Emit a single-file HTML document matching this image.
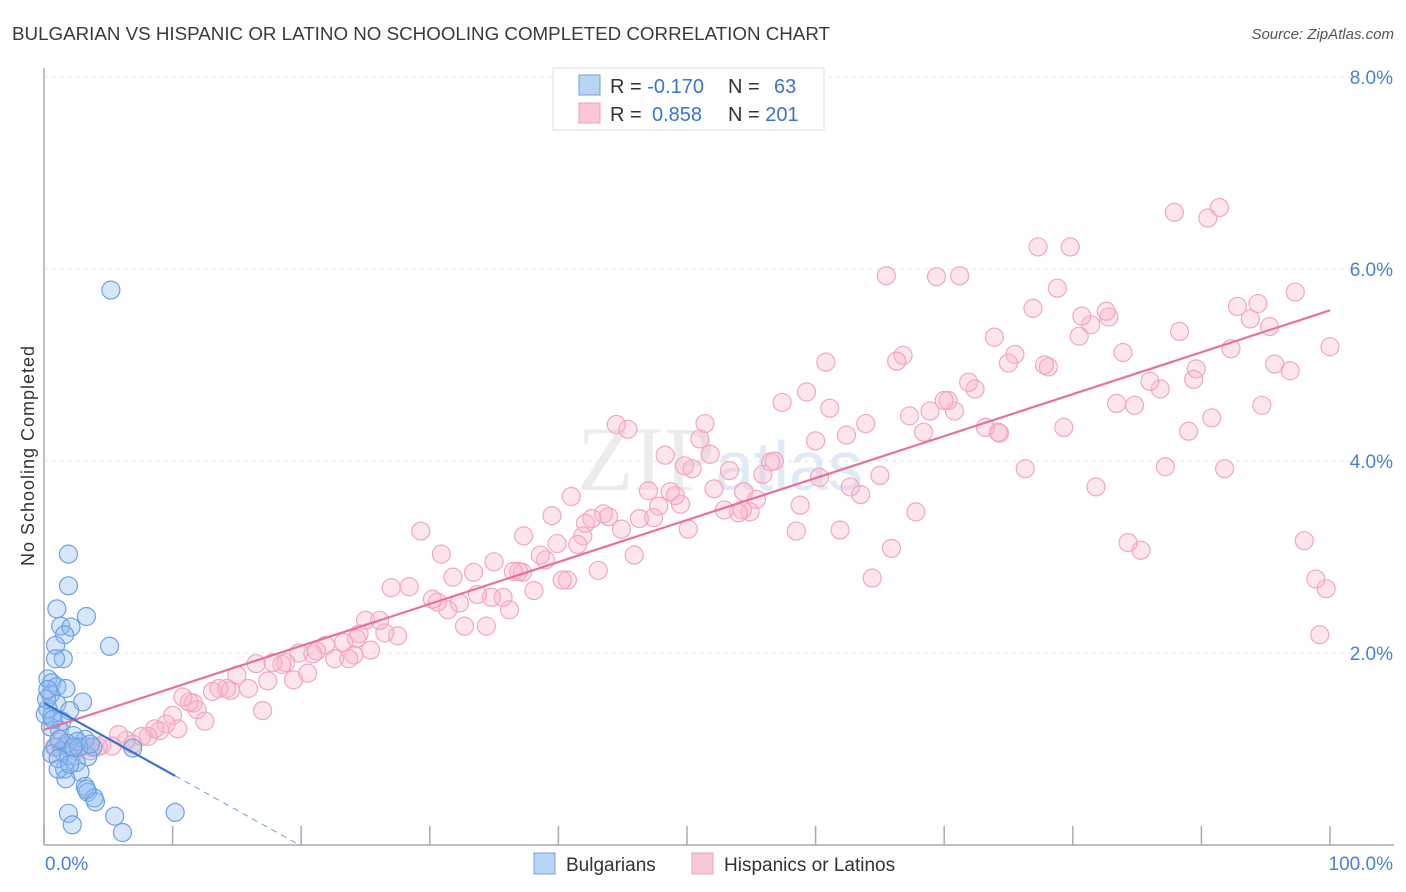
<!DOCTYPE html>
<html><head><meta charset="utf-8">
<style>
body{margin:0;background:#fff;font-family:"Liberation Sans",sans-serif;}
#wrap{position:relative;width:1406px;height:892px;overflow:hidden;}
</style></head>
<body>
<div id="wrap">
<svg id="chart" width="1406" height="892" xmlns="http://www.w3.org/2000/svg">
<text x="12" y="40" font-size="18" fill="#3a3a3a" textLength="818" lengthAdjust="spacingAndGlyphs">BULGARIAN VS HISPANIC OR LATINO NO SCHOOLING COMPLETED CORRELATION CHART</text>
<text x="1394" y="39" font-size="15" fill="#555" font-style="italic" text-anchor="end">Source: ZipAtlas.com</text>
<text x="720" y="490" font-size="92" fill="#ececec" text-anchor="middle" font-family="Liberation Serif,serif">ZIP<tspan font-family="Liberation Sans,sans-serif" font-size="70" fill="#e0eaf7">atlas</tspan></text>
<g id="grid"></g>
<g id="axes"></g>
<g id="marks"></g>
<text transform="translate(34,456) rotate(-90)" font-size="18" fill="#333" text-anchor="middle" textLength="220">No Schooling Completed</text>
<g>
<rect x="553" y="68" width="271" height="62" fill="#fff" stroke="#ddd"/>
<rect x="579" y="75" width="21" height="20" fill="#b9d3f5" stroke="#6fa0e0"/>
<rect x="579" y="103" width="21" height="20" fill="#f9c6d6" stroke="#eea0b8"/>
<text x="610" y="93" font-size="20" fill="#333">R = <tspan fill="#3a74d0">-0.170</tspan></text>
<text x="728" y="93" font-size="20" fill="#333">N = <tspan fill="#3a74d0" x="774">63</tspan></text>
<text x="610" y="121" font-size="20" fill="#333">R = <tspan fill="#3a74d0" x="652">0.858</tspan></text>
<text x="728" y="121" font-size="20" fill="#333">N = <tspan fill="#3a74d0">201</tspan></text>
</g>
<g>
<rect x="534" y="853" width="21" height="21" fill="#b9d3f5" stroke="#6fa0e0"/>
<text x="566" y="871" font-size="19" fill="#333">Bulgarians</text>
<rect x="692" y="853" width="21" height="21" fill="#f9c6d6" stroke="#eea0b8"/>
<text x="724" y="871" font-size="19" fill="#333">Hispanics or Latinos</text>
</g>
</svg>
</div>
<script>
const yTicks=[2,4,6,8];
const yTickLabels=["2.0%","4.0%","6.0%","8.0%"];
const xTicks=[0,10,20,30,40,50,60,70,80,90,100];
const blueX=[5.2,1.9,1.9,1.0,3.3,1.3,2.1,1.6,5.1,0.9,1.5,0.9,0.3,0.6,1.0,1.7,0.5,3.0,1.0,0.3,2.0,0.6,1.4,0.5,1.2,2.3,3.2,2.6,1.8,0.9,3.8,6.9,1.4,0.6,1.9,3.4,2.5,1.6,2.8,1.7,3.2,3.4,3.9,4.0,1.9,2.2,5.5,6.1,10.2,1.1,1.2,2.7,0.1,0.2,0.3,0.7,2.3,3.6,1.1,2.0,3.3];
const blueY=[5.78,3.03,2.70,2.46,2.38,2.28,2.27,2.19,2.07,2.08,1.94,1.94,1.73,1.69,1.65,1.63,1.57,1.49,1.47,1.42,1.40,1.34,1.29,1.23,1.20,1.14,1.10,1.08,1.06,1.02,1.02,1.01,0.98,0.95,0.93,0.92,0.86,0.79,0.76,0.69,0.61,0.55,0.49,0.45,0.33,0.21,0.30,0.13,0.34,0.90,1.10,1.02,1.36,1.52,1.62,1.31,1.02,1.05,0.79,0.84,0.58];
const pinkX=[100,99.7,99.2,98.9,98.0,97.3,96.9,95.7,95.3,94.7,94.4,93.8,92.8,92.3,91.8,91.4,90.8,90.5,89.6,89.4,89.0,88.3,87.9,86.8,87.2,86.0,85.3,84.8,84.3,83.9,83.4,82.8,82.6,81.8,81.4,80.7,80.5,79.3,79.8,78.8,78.1,77.8,77.3,76.9,76.3,75.5,75.0,74.3,74.2,73.9,73.2,72.4,71.9,71.2,70.8,70.3,70.0,69.4,68.9,68.4,67.8,67.3,66.8,66.3,65.9,65.5,65.0,64.4,63.9,63.5,62.7,62.4,61.9,61.1,60.8,60.3,60.0,59.3,58.8,58.5,57.4,56.8,56.5,55.9,55.4,54.9,54.4,54.3,54.0,53.3,52.9,52.1,51.8,51.4,51.0,50.4,50.1,49.8,49.5,49.1,48.7,48.3,47.8,47.4,47.0,46.3,45.9,45.4,44.9,44.5,43.9,43.5,43.1,42.6,42.1,41.9,41.5,41.0,40.7,40.3,39.9,39.5,39.0,38.6,38.1,37.3,37.2,36.9,36.5,36.2,35.7,35.0,34.8,34.4,33.7,33.4,32.7,32.3,31.8,31.4,30.9,30.6,30.2,29.3,28.4,27.5,27.0,26.5,26.1,25.4,25.0,24.5,24.3,24.1,23.7,23.3,22.6,21.9,21.2,20.9,20.5,19.8,19.4,18.8,18.5,17.8,17.4,17.0,16.5,15.9,15.0,14.5,14.2,13.6,13.1,12.5,11.9,11.6,11.3,10.8,10.4,10.0,9.5,9.0,8.6,8.1,7.6,6.9,6.4,5.8,5.3,4.5,4.2,3.6,3.2,2.5,2.0,1.6,1.1,0.8];
const pinkY=[5.19,2.67,2.19,2.77,3.17,5.76,4.94,5.01,5.40,4.58,5.64,5.48,5.61,5.17,3.92,6.64,4.45,6.53,4.96,4.85,4.31,5.35,6.59,4.75,3.94,4.83,3.07,4.58,3.15,5.13,4.60,5.50,5.56,3.73,5.42,5.51,5.30,4.35,6.23,5.80,4.98,5.00,6.23,5.59,3.92,5.11,5.02,4.29,4.30,5.29,4.35,4.75,4.82,5.93,4.52,4.63,4.63,5.92,4.52,4.30,3.47,4.47,5.10,5.04,3.09,5.93,3.85,2.78,4.39,3.65,3.73,4.27,3.28,4.55,5.03,3.83,4.21,4.72,3.54,3.27,4.61,4.00,3.99,3.86,3.60,3.47,3.68,3.49,3.46,3.90,3.49,3.71,4.07,4.39,4.23,3.92,3.29,3.95,3.55,3.64,3.68,4.06,3.53,3.41,3.69,3.40,3.02,4.33,3.29,4.38,3.42,3.45,2.86,3.40,3.35,3.22,3.13,3.63,2.76,2.76,3.14,3.43,2.97,3.02,2.65,3.22,2.84,2.85,2.85,2.45,2.58,2.95,2.58,2.28,2.61,2.84,2.28,2.52,2.79,2.45,3.03,2.53,2.56,3.27,2.69,2.18,2.68,2.21,2.34,2.03,2.34,2.20,2.15,1.98,1.94,2.11,1.94,2.08,2.02,1.99,1.79,2.00,1.72,1.90,1.88,1.90,1.71,1.40,1.89,1.63,1.77,1.61,1.63,1.63,1.60,1.29,1.41,1.48,1.49,1.54,1.21,1.35,1.26,1.19,1.21,1.13,1.13,1.05,1.09,1.15,1.03,1.04,1.02,0.98,1.03,0.98,1.00,1.04,1.08,1.02];
const pinkTrend=[1.20,0.0437];
const blueTrend=[1.48,-0.0745];
const blueSolidEnd=10.2;

const NS="http://www.w3.org/2000/svg";
const X0=44,X1=1330,Y0=845,PX_PER=96;
function sx(v){return X0+(X1-X0)*v/100;}
function sy(v){return Y0-v*PX_PER;}
function mk(tag,attrs,parent){const e=document.createElementNS(NS,tag);for(const k in attrs)e.setAttribute(k,attrs[k]);parent.appendChild(e);return e;}
const grid=document.getElementById('grid'),axes=document.getElementById('axes'),marks=document.getElementById('marks');
yTicks.forEach((t,i)=>{
  const l=mk('line',{x1:X0,x2:1394,y1:sy(t),y2:sy(t),stroke:'#e6e6e6','stroke-dasharray':'4,4'},grid);
  
  
  const tx=mk('text',{x:1393,y:sy(t)+7,'font-size':19,fill:'#4a80d6','text-anchor':'end'},axes);
  tx.textContent=yTickLabels[i];
  
  
});
const ya=mk('line',{x1:X0,x2:X0,y1:68,y2:Y0,stroke:'#aaa','stroke-width':1.5},axes);


const xa=mk('line',{x1:X0,x2:1394,y1:Y0,y2:Y0,stroke:'#aaa','stroke-width':1.5},axes);


xTicks.forEach(t=>{
  const l=mk('line',{x1:sx(t),x2:sx(t),y1:Y0-19,y2:Y0,stroke:'#aaa','stroke-width':1.5},axes);
  
  
});
const xl0=mk('text',{x:45,y:870,'font-size':19,fill:'#4a80d6'},axes);xl0.textContent='0.0%';


const xl1=mk('text',{x:1393,y:870,'font-size':19,fill:'#4a80d6','text-anchor':'end'},axes);xl1.textContent='100.0%';



pinkX.forEach((x,i)=>{
  const c=mk('circle',{cx:sx(x),cy:sy(pinkY[i]),r:9,fill:'rgba(248,180,202,0.35)',stroke:'#f0a8bf','stroke-width':1.2},marks);
  
  
});
blueX.forEach((x,i)=>{
  const c=mk('circle',{cx:sx(x),cy:sy(blueY[i]),r:9,fill:'rgba(140,185,240,0.35)',stroke:'#6fa0e0','stroke-width':1.2},marks);
  
  
});
const pt=mk('line',{x1:sx(0),y1:sy(pinkTrend[0]),x2:sx(100),y2:sy(pinkTrend[0]+100*pinkTrend[1]),stroke:'#e8709a','stroke-width':2.2},marks);


const bEnd=blueTrend[0]+blueSolidEnd*blueTrend[1];
const bt=mk('line',{x1:sx(0),y1:sy(blueTrend[0]),x2:sx(blueSolidEnd),y2:sy(bEnd),stroke:'#3a74d0','stroke-width':2.2},marks);


const zx=-blueTrend[0]/blueTrend[1];
const bd=mk('line',{x1:sx(blueSolidEnd),y1:sy(bEnd),x2:sx(zx),y2:sy(0),stroke:'#6fa0e0','stroke-width':1,'stroke-dasharray':'6,5'},marks);


</script>
</body></html>
